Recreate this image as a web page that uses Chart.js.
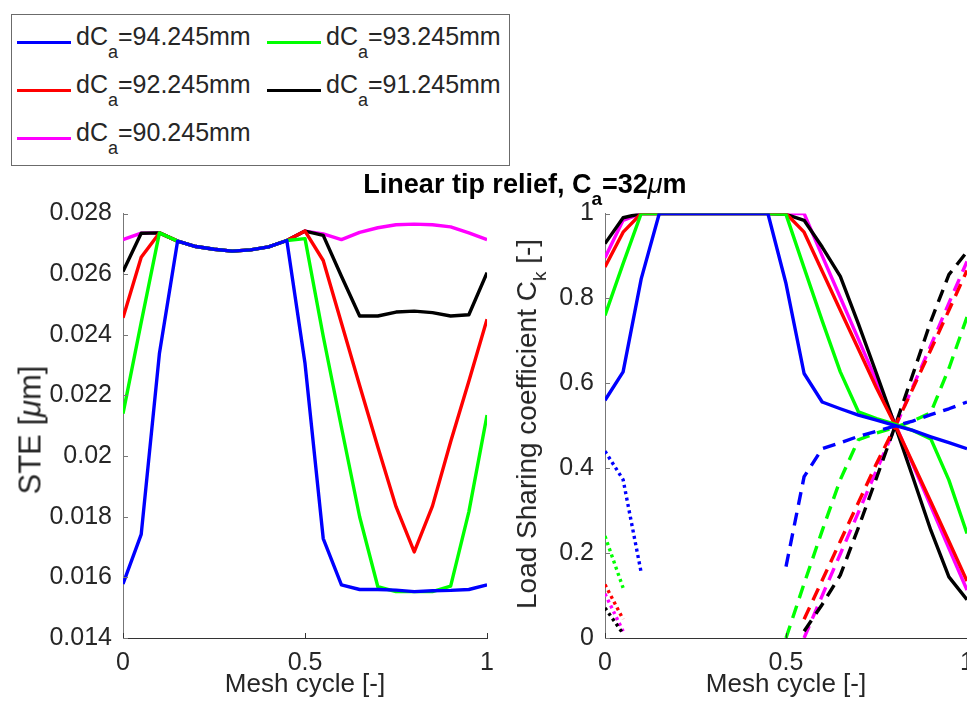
<!DOCTYPE html>
<html>
<head>
<meta charset="utf-8">
<script src="https://cdn.jsdelivr.net/npm/chart.js@4.4.1/dist/chart.umd.min.js"></script>
<style>
  html, body { margin:0; padding:0; width:967px; height:715px; overflow:hidden; background:#fff; }
  body { position:relative; font-family:"Liberation Sans", Arial, Helvetica, sans-serif; color:#262626; }
  .cv { position:absolute; }
  #legend { position:absolute; left:11px; top:14px; width:497px; height:150px; border:1px solid #6b6b6b; background:#fff; }
  .lline { position:absolute; width:54px; height:3px; }
  .ltext { position:absolute; font-size:25px; line-height:26px; white-space:nowrap; color:#262626; }
  .ltext .sb { font-size:18px; position:relative; top:13px; }
  #title { position:absolute; left:275px; width:500px; top:171px; text-align:center; font-weight:bold; font-size:27px; line-height:27px; white-space:nowrap; color:#000; }
  #title .sb { font-size:19px; position:relative; top:12px; }
  .ytitle { position:absolute; line-height:1; white-space:nowrap; transform:translate(-50%,-50%) rotate(-90deg); color:#262626; }
  .ytitle .sb { font-size:19px; position:relative; top:10px; }
</style>
</head>
<body>
<canvas id="c1" class="cv" width="507" height="525" style="left:0px;top:190px;width:507px;height:525px;"></canvas>
<canvas id="c2" class="cv" width="600" height="525" style="left:500px;top:190px;width:600px;height:525px;"></canvas>

<div id="legend"></div>
<div id="title">Linear tip relief, C<span class="sb">a</span>=32<i style="font-weight:normal">μ</i>m</div>
<div class="ytitle" style="left:30px;top:430px;font-size:31px;">STE [<i>μ</i>m]</div>
<div class="ytitle" style="left:527px;top:424px;font-size:28px;">Load Sharing coefficient C<span class="sb">k</span> [-]</div>

<script>
// ---------------- data ----------------
const meshCycle = [0,0.05,0.1,0.15,0.2,0.25,0.3,0.35,0.4,0.45,0.5,0.55,0.6,0.65,0.7,0.75,0.8,0.85,0.9,0.95,1];
const legendLabels = ['dCa=94.245mm','dCa=93.245mm','dCa=92.245mm','dCa=91.245mm','dCa=90.245mm'];
const dCaValues = ['94.245','93.245','92.245','91.245','90.245'];

// STE [um] (left panel)
const steBlue    = [0.01578,0.01742,0.02338,0.02709,0.02691,0.02682,0.02676,0.0268,0.0269,0.02711,0.02305,0.01728,0.01575,0.0156,0.0156,0.01558,0.01553,0.01556,0.01557,0.0156,0.01575];
const steGreen   = [0.0214,0.02441,0.02736,0.02709,0.02691,0.02682,0.02676,0.0268,0.0269,0.02711,0.02717,0.02395,0.02095,0.018,0.01569,0.01553,0.01553,0.01553,0.01571,0.01816,0.02135];
const steRed     = [0.02456,0.02656,0.02736,0.02709,0.02691,0.02682,0.02676,0.0268,0.0269,0.02711,0.02742,0.02645,0.02439,0.02233,0.0203,0.01833,0.01684,0.01835,0.02047,0.02247,0.02451];
const steBlack   = [0.02609,0.02735,0.02736,0.02709,0.02691,0.02682,0.02676,0.0268,0.0269,0.02711,0.02742,0.02728,0.02593,0.02462,0.02462,0.02475,0.02478,0.02473,0.02462,0.02466,0.02605];
const steMagenta = [0.02714,0.02735,0.02736,0.02709,0.02691,0.02682,0.02676,0.0268,0.0269,0.02711,0.02742,0.02733,0.02714,0.02738,0.02753,0.02763,0.02765,0.02763,0.02756,0.02736,0.02714];

// Load sharing coefficient Ck (right panel), solid
const ckBlue    = [0.56,0.627,0.846,1,1,1,1,1,1,1,0.835,0.623,0.556,0.54,0.525,0.513,0.501,0.489,0.474,0.46,0.446];
const ckGreen   = [0.76,0.882,1,1,1,1,1,1,1,1,0.998,0.872,0.747,0.627,0.533,0.517,0.504,0.489,0.469,0.372,0.246];
const ckRed     = [0.874,0.956,1,1,1,1,1,1,1,1,1,0.956,0.864,0.772,0.681,0.589,0.504,0.413,0.321,0.228,0.134];
const ckBlack   = [0.929,0.99,1,1,1,1,1,1,1,1,0.998,0.984,0.921,0.852,0.74,0.623,0.504,0.38,0.254,0.144,0.09];
const ckMagenta = [0.896,0.984,1,1,1,1,1,1,1,1,1,1,0.9,0.802,0.704,0.605,0.507,0.409,0.311,0.211,0.113];
// dashed (next pair entering)
const ckBlueDash    = [null,null,null,null,null,null,null,null,null,null,0.168,0.38,0.446,0.46,0.475,0.487,0.499,0.511,0.526,0.54,0.556];
const ckGreenDash   = [null,null,null,null,null,null,null,null,null,null,0.0,0.128,0.253,0.373,0.467,0.483,0.496,0.511,0.531,0.635,0.756];
const ckRedDash     = [null,null,null,null,null,null,null,null,null,null,null,0.044,0.136,0.228,0.319,0.411,0.496,0.587,0.679,0.772,0.866];
const ckBlackDash   = [null,null,null,null,null,null,null,null,null,null,null,0.016,0.079,0.148,0.26,0.377,0.496,0.62,0.746,0.856,0.91];
const ckMagentaDash = [null,null,null,null,null,null,null,null,null,null,null,0.0,0.1,0.198,0.296,0.395,0.493,0.591,0.689,0.789,0.887];
// dotted (previous pair leaving)
const ckBlueDot    = [0.44,0.373,0.154,null,null,null,null,null,null,null,null,null,null,null,null,null,null,null,null,null,null];
const ckGreenDot   = [0.24,0.118,null,null,null,null,null,null,null,null,null,null,null,null,null,null,null,null,null,null,null];
const ckRedDot     = [0.126,0.044,null,null,null,null,null,null,null,null,null,null,null,null,null,null,null,null,null,null,null];
const ckBlackDot   = [0.071,0.01,null,null,null,null,null,null,null,null,null,null,null,null,null,null,null,null,null,null,null];
const ckMagentaDot = [0.104,0.016,null,null,null,null,null,null,null,null,null,null,null,null,null,null,null,null,null,null,null];

// ticks
const steTicks = [0.014,0.016,0.018,0.02,0.022,0.024,0.026,0.028];
const steTickLabels = ['0.014','0.016','0.018','0.02','0.022','0.024','0.026','0.028'];
const ckTicks = [0,0.2,0.4,0.6,0.8,1];
const ckTickLabels = ['0','0.2','0.4','0.6','0.8','1'];
const meshTicks = [0,0.5,1];
const meshTickLabels = ['0','0.5','1'];

// ---------------- styles ----------------
const colors = ['#0000ff','#00ff00','#ff0000','#000000','#ff00ff'];
const FONT = '"Liberation Sans", Arial, Helvetica, sans-serif';
const AX = '#262626';
const TICKFONT = {family:FONT, size:25, lineHeight:1};

// legend (HTML, real text)
(function buildLegend(){
  const lg = document.getElementById('legend');
  const pos = [[0,0],[1,0],[0,1],[1,1],[0,2]];
  dCaValues.forEach((v,i)=>{
    const [c,r] = pos[i];
    const lx = c===0 ? 5 : 255;
    const ly = 26 + r*48;
    const line = document.createElement('div');
    line.className = 'lline';
    line.style.left = lx + 'px'; line.style.top = ly + 'px';
    line.style.background = colors[i];
    lg.appendChild(line);
    const t = document.createElement('div');
    t.className = 'ltext';
    t.style.left = (lx + 59) + 'px'; t.style.top = (ly - 18) + 'px';
    t.innerHTML = 'dC<span class="sb">a</span>=' + v + 'mm';
    lg.appendChild(t);
  });
})();

function mkds(values, color, dash, label){
  return {
    label: label,
    data: meshCycle.map((x,i)=>({x:x, y:values[i]})),
    borderColor: color,
    backgroundColor: color,
    borderWidth: 3.4,
    borderDash: dash || [],
    borderCapStyle: 'butt',
    borderJoinStyle: 'round',
    pointRadius: 0,
    tension: 0,
    fill: false,
    spanGaps: false
  };
}

const inwardTicks = {
  id: 'inwardTicks',
  afterDatasetsDraw(chart){
    const {ctx, chartArea:a, scales:{x,y}} = chart;
    ctx.save();
    ctx.lineWidth = 1;
    ctx.strokeStyle = '#333';
    x.ticks.forEach(t=>{
      const px = Math.round(x.getPixelForValue(t.value)) + 0.5;
      ctx.beginPath(); ctx.moveTo(px, a.bottom); ctx.lineTo(px, a.bottom - 5); ctx.stroke();
    });
    ctx.strokeStyle = '#777';
    y.ticks.forEach(t=>{
      const py = Math.round(y.getPixelForValue(t.value)) + 0.5;
      ctx.beginPath(); ctx.moveTo(a.left, py); ctx.lineTo(a.left + 5, py); ctx.stroke();
    });
    ctx.restore();
  }
};

function axisX(){
  return {
    type:'linear', min:0, max:1,
    afterBuildTicks: s => { s.ticks = meshTicks.map(v=>({value:v})); },
    afterFit: s => { s.height = 77; },
    grid:{display:false, drawTicks:false},
    border:{display:true, color:'#333', width:1},
    ticks:{font:TICKFONT, color:AX, padding:13, maxRotation:0, autoSkip:false,
           callback:(v,i)=>meshTickLabels[i]},
    title:{display:true, text:'Mesh cycle [-]', font:{family:FONT, size:26}, color:AX, padding:{top:0,bottom:15}}
  };
}

// ---------------- left chart: STE ----------------
new Chart(document.getElementById('c1'), {
  type:'line',
  data:{ datasets:[
    mkds(steBlue, colors[0], null, legendLabels[0]),
    mkds(steGreen, colors[1], null, legendLabels[1]),
    mkds(steRed, colors[2], null, legendLabels[2]),
    mkds(steBlack, colors[3], null, legendLabels[3]),
    mkds(steMagenta, colors[4], null, legendLabels[4])
  ]},
  options:{
    responsive:false, animation:false, devicePixelRatio:1,
    layout:{padding:{left:0, top:0, right:0, bottom:0}},
    plugins:{legend:{display:false}, tooltip:{enabled:false}, title:{display:false}},
    scales:{
      x: axisX(),
      y:{
        type:'linear', min:0.014, max:0.028,
        afterBuildTicks: s => { s.ticks = steTicks.map(v=>({value:v})); },
        afterFit: s => { s.width = 123; },
        grid:{display:false, drawTicks:false},
        border:{display:true, color:'#777', width:1},
        ticks:{font:TICKFONT, color:AX, padding:11, autoSkip:false,
               callback:(v,i)=>steTickLabels[i]}
      }
    }
  },
  plugins:[inwardTicks]
});

// ---------------- right chart: load sharing ----------------
const rightSets = [];
const solid = [ckBlue, ckGreen, ckRed, ckBlack, ckMagenta];
const dashd = [ckBlueDash, ckGreenDash, ckRedDash, ckBlackDash, ckMagentaDash];
const dotd  = [ckBlueDot, ckGreenDot, ckRedDot, ckBlackDot, ckMagentaDot];
for (let i=0;i<5;i++){
  rightSets.push(mkds(solid[i], colors[i], null, legendLabels[i]));
  rightSets.push(mkds(dashd[i], colors[i], [13,8], legendLabels[i]));
  rightSets.push(mkds(dotd[i], colors[i], [3,3.5], legendLabels[i]));
}
new Chart(document.getElementById('c2'), {
  type:'line',
  data:{ datasets: rightSets },
  options:{
    responsive:false, animation:false, devicePixelRatio:1,
    layout:{padding:{left:0, top:0, right:133, bottom:0}},
    plugins:{legend:{display:false}, tooltip:{enabled:false}, title:{display:false}},
    scales:{
      x: axisX(),
      y:{
        type:'linear', min:0, max:1,
        afterBuildTicks: s => { s.ticks = ckTicks.map(v=>({value:v})); },
        afterFit: s => { s.width = 105; },
        grid:{display:false, drawTicks:false},
        border:{display:true, color:'#777', width:1},
        ticks:{font:TICKFONT, color:AX, padding:11, autoSkip:false,
               callback:(v,i)=>ckTickLabels[i]}
      }
    }
  },
  plugins:[inwardTicks]
});
</script>
</body>
</html>
